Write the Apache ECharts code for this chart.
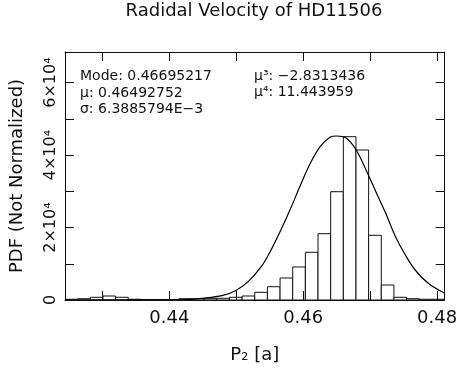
<!DOCTYPE html>
<html>
<head>
<meta charset="utf-8">
<script src="https://cdn.jsdelivr.net/npm/echarts@6/dist/echarts.min.js"></script>
<style>
  html, body { margin: 0; padding: 0; background: #fff; }
  #chart { width: 460px; height: 374px; }
</style>
</head>
<body>
<div id="chart"></div>
<script>
// histogram: 30 bins, first edge and width
var binFirstEdge = 0.42442;
var binWidth = 0.00189;
var binCounts = [
  200, 360, 750, 1100, 750, 200, 80, 80, 80, 360,
  360, 360, 470, 750, 1100, 2130, 3670, 6070, 9110, 13170,
  18300, 29890, 45070, 41400, 17860, 4140, 750, 360, 200, 200
];

// fitted curve, points
var curveX = [0.4244, 0.4400, 0.4425, 0.44492, 0.44787, 0.44982, 0.45178, 0.45373, 0.4552, 0.45667,
  0.45814, 0.4596, 0.46107, 0.46254, 0.464, 0.46499, 0.46646, 0.46792, 0.46939, 0.47086,
  0.47233, 0.4738, 0.47526, 0.47673, 0.47868, 0.48113];
var curveY = [0, 30, 120, 470, 1190, 2480, 5060, 9190, 13800, 19320,
  25300, 31740, 37730, 42310, 44900, 45260, 44630, 41400, 35880, 29890,
  23930, 17460, 12420, 8280, 4600, 1850];

var xMin = 0.42442, xMax = 0.48113;
var yMax = 68450;
var xTickLabels = ['0.44', '0.46', '0.48'];
var yTickLabels = ['0', '2×10⁴', '4×10⁴', '6×10⁴'];

var font = 'DejaVu Sans';
var ink = '#111';

var bins = binCounts.map(function (c, i) {
  return [binFirstEdge + i * binWidth, binFirstEdge + (i + 1) * binWidth, c];
});
var curve = curveX.map(function (x, i) { return [x, curveY[i]]; });

var chart = echarts.init(document.getElementById('chart'), null, { renderer: 'canvas' });

function xLabel(v) {
  var s = v.toFixed(2);
  if (Math.abs(v - parseFloat(s)) > 1e-7) return '';
  return xTickLabels.indexOf(s) >= 0 ? s : '';
}
function yLabel(v) {
  if (v % 20000 !== 0) return '';
  return yTickLabels[v / 20000] || '';
}

var tickStyle = { inside: true, length: 9, lineStyle: { color: ink, width: 1 } };
var lineStyle = { show: true, onZero: false, lineStyle: { color: ink, width: 1 } };

var option = {
  animation: false,
  backgroundColor: '#fff',
  grid: { left: 61, right: 13, top: 52, bottom: 74 },
  xAxis: [
    {
      type: 'value', min: xMin, max: xMax, position: 'bottom', z: 10,
      axisLine: lineStyle, axisTick: tickStyle, splitLine: { show: false },
      axisLabel: { formatter: xLabel, margin: 9, fontFamily: font, fontSize: 18, color: ink },
      name: 'P₂ [a]', nameLocation: 'middle', nameGap: 46,
      nameTextStyle: { fontFamily: font, fontSize: 18, color: ink }
    },
    {
      type: 'value', min: xMin, max: xMax, position: 'top', z: 10,
      axisLine: lineStyle, axisTick: tickStyle, splitLine: { show: false },
      axisLabel: { show: false }
    }
  ],
  yAxis: [
    {
      type: 'value', min: 0, max: yMax, interval: 10000, position: 'left', z: 10,
      axisLine: lineStyle, axisTick: tickStyle, splitLine: { show: false },
      axisLabel: { formatter: yLabel, rotate: 90, margin: 6, fontFamily: font, fontSize: 16, color: ink },
      name: 'PDF (Not Normalized)', nameLocation: 'middle', nameRotate: 90, nameGap: 39,
      nameTextStyle: { fontFamily: font, fontSize: 18, color: ink }
    },
    {
      type: 'value', min: 0, max: yMax, interval: 10000, position: 'right', z: 10,
      axisLine: lineStyle, axisTick: tickStyle, splitLine: { show: false },
      axisLabel: { show: false }
    }
  ],
  graphic: [
    { type: 'text', x: 254, y: 11, style: { text: 'Radidal Velocity of HD11506', font: '18px "DejaVu Sans"', fill: ink, align: 'center', verticalAlign: 'middle' } },
    { type: 'text', x: 80, y: 76, style: { text: 'Mode: 0.46695217', font: '14px "DejaVu Sans"', fill: ink, verticalAlign: 'middle' } },
    { type: 'text', x: 80, y: 93, style: { text: 'μ: 0.46492752', font: '14px "DejaVu Sans"', fill: ink, verticalAlign: 'middle' } },
    { type: 'text', x: 80, y: 109, style: { text: 'σ: 6.3885794E−3', font: '14px "DejaVu Sans"', fill: ink, verticalAlign: 'middle' } },
    { type: 'text', x: 254, y: 76, style: { text: 'μ³: −2.8313436', font: '14px "DejaVu Sans"', fill: ink, verticalAlign: 'middle' } },
    { type: 'text', x: 254, y: 92, style: { text: 'μ⁴: 11.443959', font: '14px "DejaVu Sans"', fill: ink, verticalAlign: 'middle' } }
  ],
  series: [
    {
      type: 'custom',
      data: bins,
      encode: { x: [0, 1], y: 2 },
      clip: true,
      renderItem: function (params, api) {
        var p0 = api.coord([api.value(0), 0]);
        var p1 = api.coord([api.value(1), api.value(2)]);
        return {
          type: 'rect',
          shape: { x: p0[0], y: p1[1], width: p1[0] - p0[0], height: p0[1] - p1[1] },
          style: { fill: '#fff', stroke: ink, lineWidth: 1 }
        };
      }
    },
    {
      type: 'line',
      data: curve,
      smooth: 0.35,
      showSymbol: false,
      clip: true,
      lineStyle: { color: '#000', width: 1.2 }
    }
  ]
};

chart.setOption(option);
</script>
</body>
</html>
